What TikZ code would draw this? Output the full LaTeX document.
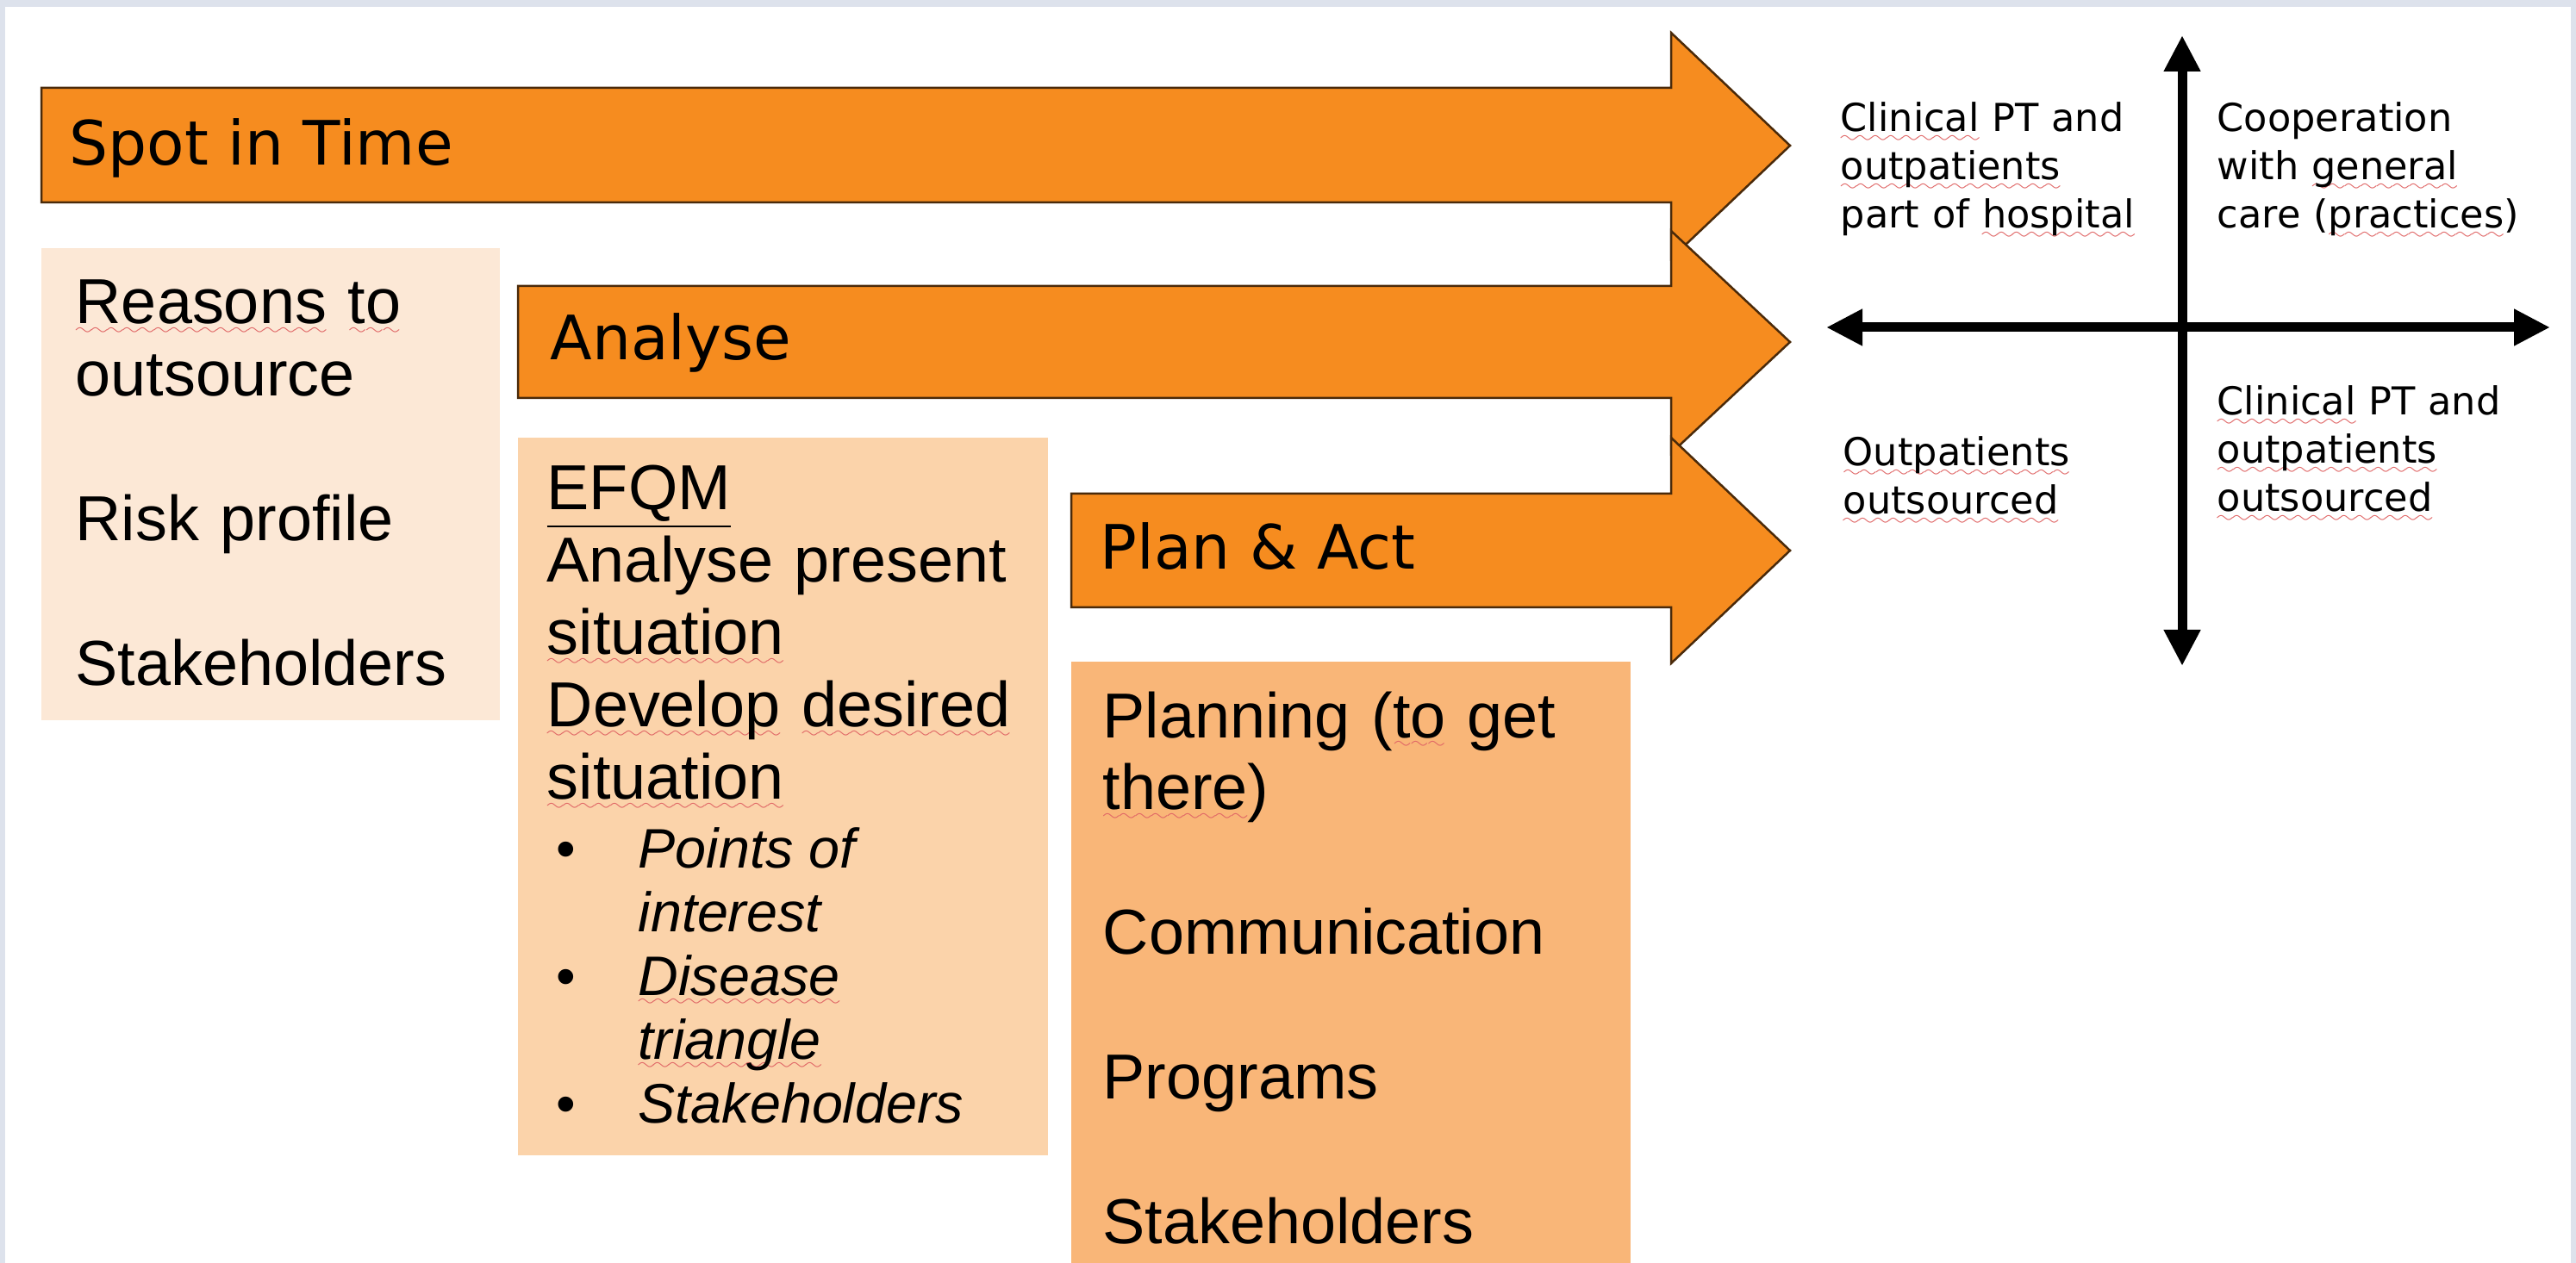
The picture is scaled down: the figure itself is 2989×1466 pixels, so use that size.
\documentclass[tikz,border=0pt]{standalone}
\usepackage{fontspec}
\setmainfont{Liberation Sans}
\newfontfamily\comicfont{DejaVu Sans}
\usetikzlibrary{arrows.meta}

\definecolor{framegray}{HTML}{DDE2EC}
\definecolor{arrowfill}{HTML}{F68C1F}
\definecolor{arrowline}{HTML}{4A2A0A}
\definecolor{boxlight}{HTML}{FCE8D6}
\definecolor{boxmid}{HTML}{FBD3AA}
\definecolor{boxdark}{HTML}{F9B678}
\definecolor{squig}{HTML}{E06666}

% spell-check squiggle under a word
\font\squigfont=lasy6
\newsavebox\sqword
\newcommand\sq[1]{\leavevmode\sbox\sqword{#1}\rlap{\textcolor{squig}{\hbox to \wd\sqword{\xleaders\hbox{\lower3.5pt\hbox{\squigfont\char58}}\hfill}}}\usebox\sqword}

\tikzset{
  bigarrow/.style={fill=arrowfill, draw=arrowline, line width=0.25mm},
  arrowlabel/.style={anchor=base west, inner sep=0, font=\comicfont\fontsize{20.2}{24}\selectfont},
  boxtext/.style={anchor=base west, inner sep=0, text width=#1, align=left, font=\fontsize{21}{23.9}\selectfont},
  quadtext/.style={anchor=base west, inner sep=0, text width=40mm, align=left, font=\comicfont\fontsize{12.7}{15.9}\selectfont},
  axis/.style={line width=1.1mm, {Triangle[length=4.2mm,width=4mm]}-{Triangle[length=4.2mm,width=4mm]}}
}

\begin{document}
\begin{tikzpicture}[x=0.1mm, y=-0.1mm]
  \useasboundingbox (0,0) rectangle (2989,1466);
  % frame
  \fill[framegray] (0,0) rectangle (2989,1466);
  \fill[white] (6,8) rectangle (2983,1466);

  % phase arrows
  \draw[bigarrow] (48,102) -- (1939,102) -- (1939,38) -- (2077,169) -- (1939,300) -- (1939,235) -- (48,235) -- cycle;
  \draw[bigarrow] (601,332) -- (1939,332) -- (1939,268) -- (2077,397) -- (1939,526) -- (1939,462) -- (601,462) -- cycle;
  \draw[bigarrow] (1243,573) -- (1939,573) -- (1939,508) -- (2077,639) -- (1939,770) -- (1939,705) -- (1243,705) -- cycle;

  \node[arrowlabel] (spot) at (80,192) {Spot in Time};
  \node[arrowlabel] (analyse) at (638,418) {Analyse};
  \node[arrowlabel] (plan) at (1276,661) {Plan \& Act};

  % boxes below the arrows
  \fill[boxlight] (48,288) rectangle (580,836);
  \fill[boxmid] (601,508) rectangle (1216,1341);
  \fill[boxdark] (1243,768) rectangle (1892,1466);

  \node[boxtext=48mm] (reasons) at (87,376) {\sq{Reasons} \sq{to}\\outsource\\[23.9pt]Risk profile\\[23.9pt]Stakeholders};

  \node[boxtext=58mm] (efqm) at (634,592) {\underline{EFQM}\\Analyse present\\\sq{situation}\\\sq{Develop} \sq{desired}\\\sq{situation}};
  \node[anchor=base west, inner sep=0, font=\fontsize{18.4}{21.1}\selectfont\itshape] (efqmpoints) at (645,1007) {%
    \begin{tabular}[t]{@{}p{9.5mm}@{}l@{}}
      \upshape\textbullet & Points of\\
      & interest\\
      \upshape\textbullet & \sq{Disease}\\
      & \sq{triangle}\\
      \upshape\textbullet & Stakeholders
    \end{tabular}};

  \node[boxtext=60mm] (planning) at (1279,856) {Planning (\sq{to} get\\\sq{there})\\[23.9pt]Communication\\[23.9pt]Programs\\[23.9pt]Stakeholders};

  % quadrant diagram
  \coordinate (ytop) at (2532,41);
  \coordinate (ybot) at (2532,773);
  \coordinate (xleft) at (2119,380);
  \coordinate (xright) at (2959,380);
  \draw[axis] (ybot) -- (ytop);
  \draw[axis] (xleft) -- (xright);

  \node[quadtext] (hospital) at (2135,153) {\sq{Clinical} PT and\\\sq{outpatients}\\part of \sq{hospital}};
  \node[quadtext] (cooperation) at (2572,153) {Cooperation\\with \sq{general}\\care (\sq{practices})};
  \node[quadtext] (outpatients) at (2138,541) {\sq{Outpatients}\\\sq{outsourced}};
  \node[quadtext] (outsourced) at (2572,482) {\sq{Clinical} PT and\\\sq{outpatients}\\\sq{outsourced}};
\end{tikzpicture}
\end{document}
